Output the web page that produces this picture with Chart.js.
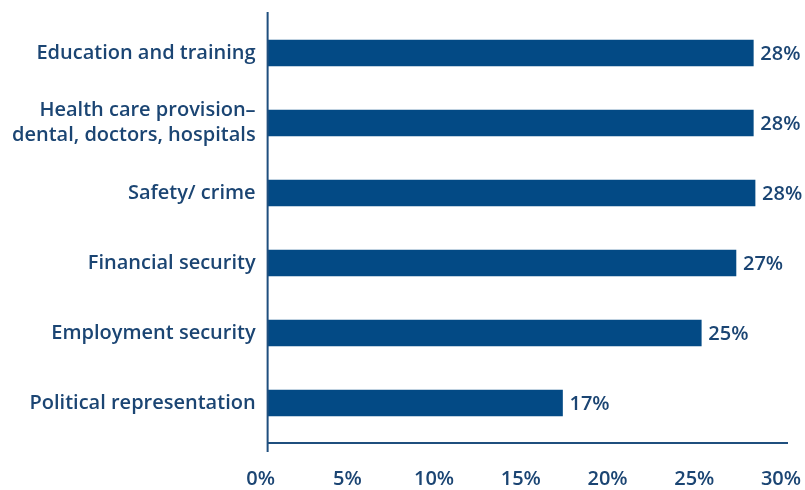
<!DOCTYPE html>
<html>
<head>
<meta charset="utf-8">
<script src="https://cdn.jsdelivr.net/npm/chart.js@4.4.1/dist/chart.umd.min.js"></script>
<style>
  html, body { margin: 0; padding: 0; background: #ffffff; }
  #wrap { width: 805px; height: 490px; position: relative; }
</style>
</head>
<body>
<div id="wrap"><canvas id="chart"></canvas></div>
<script>
// Share of respondents naming each area
const categories = [
  "Education and training",
  ["Health care provision–", "dental, doctors, hospitals"],
  "Safety/ crime",
  "Financial security",
  "Employment security",
  "Political representation"
];
const shares = [28, 28, 28.1, 27, 25, 17];
const shareLabels = ["28%", "28%", "28%", "27%", "25%", "17%"];
const tickValues = [0, 5, 10, 15, 20, 25, 30];

const NAVY = "#034a85";
const TEXT = "#1b4573";
const FONT = "'Open Sans', sans-serif";

// Axis lines drawn slightly past the plot area
const axisLines = {
  id: "axisLines",
  afterDraw(chart) {
    const { ctx, chartArea: a } = chart;
    ctx.save();
    ctx.strokeStyle = "#1f4f7e";
    ctx.lineWidth = 2;
    ctx.beginPath();
    ctx.moveTo(a.left, a.top - 6);
    ctx.lineTo(a.left, a.bottom + 14);
    ctx.moveTo(a.left, a.bottom + 5);
    ctx.lineTo(a.right, a.bottom + 5);
    ctx.stroke();
    ctx.restore();
  }
};

// Percentage label at the end of each bar
const valueLabels = {
  id: "valueLabels",
  afterDatasetsDraw(chart) {
    const { ctx } = chart;
    const meta = chart.getDatasetMeta(0);
    ctx.save();
    ctx.fillStyle = TEXT;
    ctx.font = "600 20px " + FONT;
    ctx.textAlign = "left";
    ctx.textBaseline = "middle";
    meta.data.forEach((bar, i) => {
      ctx.fillText(shareLabels[i], bar.x + 7, bar.y + 1);
    });
    ctx.restore();
  }
};

new Chart(document.getElementById("chart"), {
  type: "bar",
  data: {
    labels: categories,
    datasets: [{
      data: shares,
      backgroundColor: NAVY,
      borderWidth: 0,
      barThickness: 26
    }]
  },
  options: {
    indexAxis: "y",
    responsive: true,
    maintainAspectRatio: false,
    animation: false,
    layout: { padding: { top: 18, right: 17, bottom: 0, left: 0 } },
    plugins: {
      legend: { display: false },
      tooltip: { enabled: false }
    },
    scales: {
      x: {
        min: 0,
        max: 30,
        afterBuildTicks(scale) {
          scale.ticks = tickValues.map(v => ({ value: v }));
        },
        afterFit(scale) {
          scale.height = 52;
          scale.paddingLeft = 0;
          scale.paddingRight = 0;
        },
        grid: { display: false, drawTicks: false },
        border: { display: false },
        ticks: {
          color: TEXT,
          font: { family: FONT, size: 20, weight: "600", lineHeight: 1.2 },
          padding: 29,
          labelOffset: -7,
          maxRotation: 0,
          callback: v => v + "%"
        }
      },
      y: {
        afterFit(scale) {
          scale.paddingTop = 0;
          scale.paddingBottom = 0;
        },
        grid: { display: false, drawTicks: false },
        border: { display: false },
        ticks: {
          color: TEXT,
          font: { family: FONT, size: 20, weight: "600", lineHeight: 1.25 },
          padding: 12
        }
      }
    }
  },
  plugins: [axisLines, valueLabels]
});
</script>
</body>
</html>
